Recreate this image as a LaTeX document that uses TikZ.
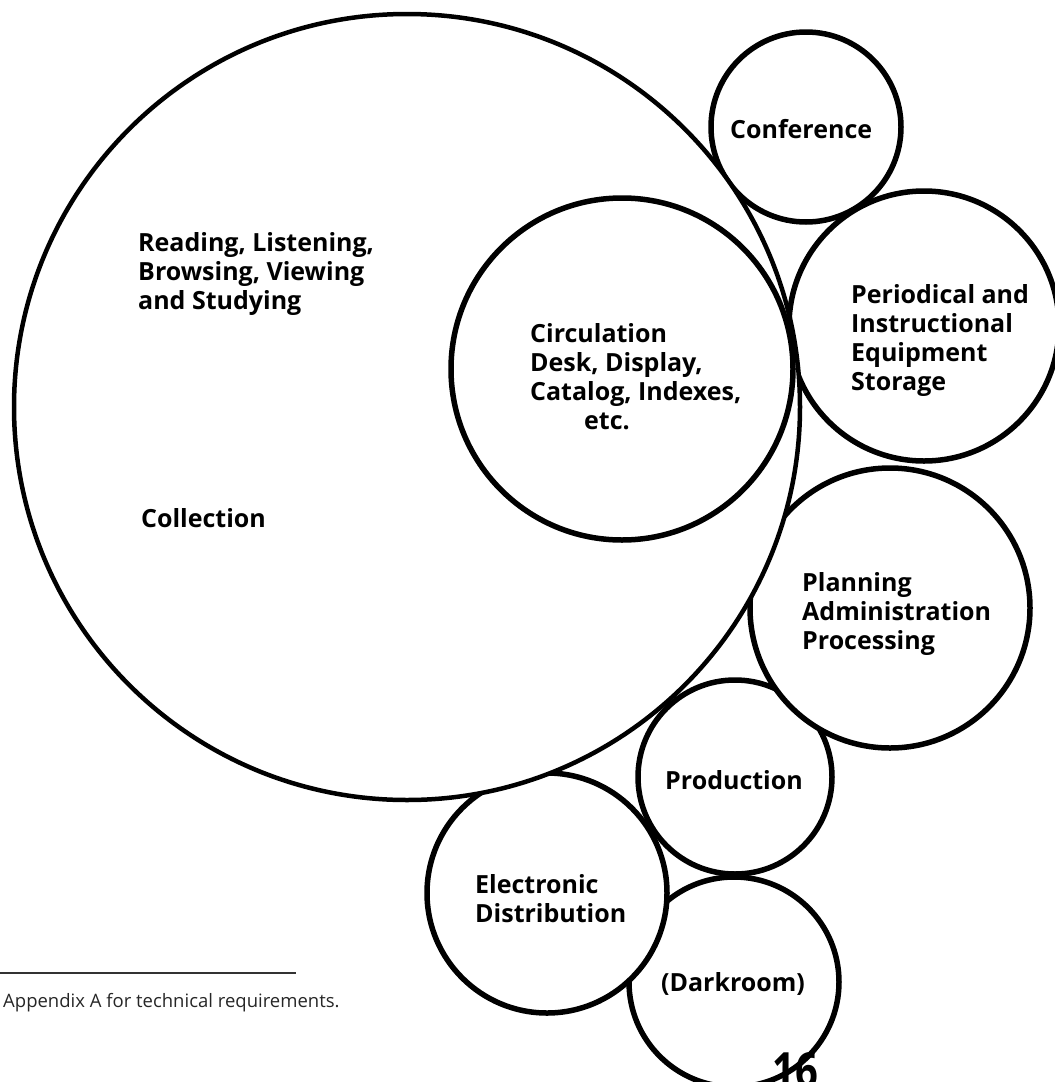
\documentclass[tikz,border=0pt]{standalone}
\usepackage{fontspec}
\setmainfont{Open Sans}
\usetikzlibrary{positioning}
\tikzstyle{every area} = []
\tikzstyle{area} = [circle, draw, line width=5.5pt, fill=white, inner sep=0pt, every area]
\tikzstyle{areatext} = [font=\fontsize{25}{29}\selectfont\bfseries, align=left, inner sep=0pt, anchor=north west]

\begin{document}
\begin{tikzpicture}[x=1pt, y=-1pt]
        \useasboundingbox (0,0) rectangle (1055,1082);

        % small rooms first, the big one is laid over them
        \node[area, minimum size=210pt] (darkroom) at (734,982) {};
        \node[area, minimum size=240pt] (electronic) at (547,893) {};
        \node[area, minimum size=194pt] (production) at (735,777) {};
        \node[area, minimum size=280pt] (planning) at (890,608) {};
        \node[area, minimum size=270pt] (periodical) at (924,326) {};
        \node[area, minimum size=190pt] (conference) at (806,127) {};
        \node[area, line width=4.5pt, minimum size=786pt] (collection) at (407,407) {};
        \node[area, minimum size=342pt] (circulation) at (622,369) {};

        \node[areatext] (readingtxt) at (138,232) {Reading, Listening,\\Browsing, Viewing\\and Studying};
        \node[areatext] (collectiontxt) at (141,508) {Collection};
        \node[areatext] (circulationtxt) at (530,323) {Circulation\\Desk, Display,\\Catalog, Indexes,\\\hspace*{54pt}etc.};
        \node[areatext] (conferencetxt) at (730,119) {Conference};
        \node[areatext] (periodicaltxt) at (851,284) {Periodical and\\Instructional\\Equipment\\Storage};
        \node[areatext] (planningtxt) at (802,572) {Planning\\Administration\\Processing};
        \node[areatext, anchor=center] (productiontxt) at (734,780) {Production};
        \node[areatext] (electronictxt) at (475,874) {Electronic\\Distribution};
        \node[areatext, anchor=center] (darkroomtxt) at (733,984) {(Darkroom)};

        % footnote and page number
        \coordinate (rulestart) at (0,973);
        \coordinate (ruleend) at (296,973);
        \draw[line width=1.2pt, black!80] (rulestart) -- (ruleend);
        \node[anchor=base west, inner sep=0pt, font=\fontsize{18.5}{20}\selectfont, black!85] (footnote) at (3,1007) {Appendix A for technical requirements.};
        \node[anchor=base west, inner sep=0pt, font=\fontsize{50}{50}\selectfont\rmfamily\bfseries] (pagenum) at (772,1088) {\scalebox{0.8}[1]{16}};

\end{tikzpicture}
\end{document}
